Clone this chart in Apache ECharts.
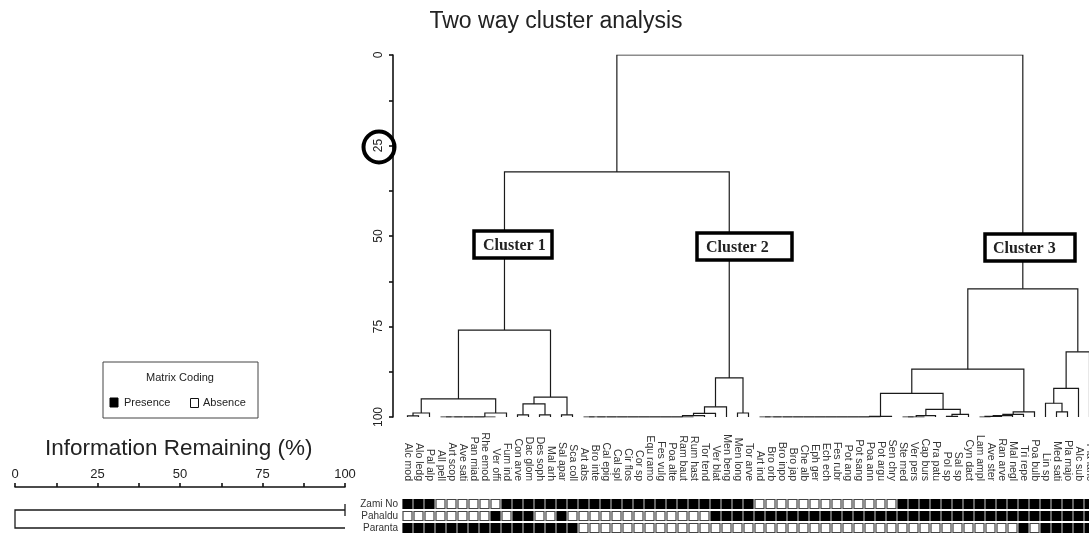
<!DOCTYPE html>
<html>
<head>
<meta charset="utf-8">
<script src="https://cdn.jsdelivr.net/npm/echarts@6/dist/echarts.min.js"></script>
<style>
  html, body { margin: 0; padding: 0; background: #fff; }
  #chart { width: 1089px; height: 535px; }
</style>
</head>
<body>
<div id="chart"></div>
<script>
// Species abbreviations, in dendrogram leaf order (columns of the two-way table)
const species = [
  'Alc mod', 'Alo ledg', 'Pal alp', 'All pell', 'Art scop', 'Ave sati', 'Pan miad', 'Rhe emod',
  'Ver offi', 'Fum ind', 'Con arve', 'Dac glom', 'Des soph', 'Mal arh', 'Sal apar', 'Sca coll',
  'Art abs', 'Bro inte', 'Cal epig', 'Cal spl', 'Cir flos', 'Cor sp', 'Equ ramo', 'Fes vulg',
  'Poa alte', 'Ram baut', 'Rum hast', 'Tor tend', 'Ver blat', 'Men beng', 'Men long', 'Tor arve',
  'Art ind', 'Bro orb', 'Bro inpo', 'Bro jap', 'Che alb', 'Eph ger', 'Ech ech', 'Fes rubr',
  'Pot ang', 'Pot sang', 'Poa ann', 'Pot argu', 'Sen chry', 'Ste med', 'Ver pers', 'Cap burs',
  'Pra patu', 'Pol sp', 'Sal sp', 'Cyn dact', 'Lam ampl', 'Ave ster', 'Ran arve', 'Mal negl',
  'Tri repe', 'Poa bulb', 'Lin sp', 'Med sati', 'Pla majo', 'Alc sub', 'Pla lanc'
];

// Sample sites (rows of the two-way table)
const sites = ['Zami No', 'Pahaldu', 'Paranta'];

// Presence (1) / absence (0) of every species at each site
const zamiNo = [
  1,1,1,0,0,0,0,0,0,1,1,1,1,1,1,1,
  1,1,1,1,1,1,1,1,1,1,1,1,1,1,1,1,
  0,0,0,0,0,0,0,0,0,0,0,0,0,1,1,1,1,1,1,1,1,1,1,1,1,1,1,1,1,1,1
];
const pahaldu = [
  0,0,0,0,0,0,0,0,1,0,1,1,0,0,1,0,
  0,0,0,0,0,0,0,0,0,0,0,0,1,1,1,1,
  1,1,1,1,1,1,1,1,1,1,1,1,1,1,1,1,1,1,1,1,1,1,1,1,1,1,1,1,1,1,1
];
const paranta = [
  1,1,1,1,1,1,1,1,1,1,1,1,1,1,1,1,
  0,0,0,0,0,0,0,0,0,0,0,0,0,0,0,0,
  0,0,0,0,0,0,0,0,0,0,0,0,0,0,0,0,0,0,0,0,0,0,0,0,1,0,1,1,1,1,1
];

// Species dendrogram: [node A, node B, information remaining (%) at the fusion].
// Nodes 0..62 are species; node 63 + k is the k-th fusion below.
const speciesMerges = [
  [0, 1, 99.7], [63, 2, 98.9],
  [3, 4, 100], [65, 5, 100], [66, 6, 100], [67, 7, 100], [68, 8, 100], [69, 9, 98.9],
  [64, 70, 95.0],
  [10, 11, 99.4], [12, 13, 99.4], [72, 73, 96.4], [14, 15, 99.4], [74, 75, 94.5],
  [71, 76, 76.0],
  [16, 17, 100], [78, 18, 100], [79, 19, 100], [80, 20, 100], [81, 21, 100], [82, 22, 100],
  [83, 23, 100], [84, 24, 100], [85, 25, 100], [86, 26, 100], [87, 27, 99.6], [88, 28, 99.0],
  [89, 29, 97.2], [30, 31, 98.9], [90, 91, 89.2],
  [77, 92, 32.3],
  [32, 33, 100], [94, 34, 100], [95, 35, 100], [96, 36, 100], [97, 37, 100], [98, 38, 100],
  [99, 39, 100], [100, 40, 100], [101, 41, 100], [102, 42, 100], [103, 43, 100], [104, 44, 99.8],
  [45, 46, 100], [106, 47, 100], [107, 48, 99.6],
  [49, 50, 99.8], [109, 51, 99.3], [108, 110, 97.9],
  [105, 111, 93.5],
  [52, 53, 100], [113, 54, 99.8], [114, 55, 99.6], [115, 56, 99.3], [116, 57, 98.6],
  [112, 117, 86.8],
  [59, 60, 98.6], [58, 119, 96.2], [120, 61, 92.1], [121, 62, 82.0],
  [118, 122, 64.6],
  [93, 123, 0]
];

// Site dendrogram, same layout (nodes 0..2 are sites)
const siteMerges = [[0, 1, 100], [3, 2, 0]];

// Labelled ticks of the information-remaining scales
const remainTicks = [0, 25, 50, 75, 100];
const clusterNames = ['Cluster 1', 'Cluster 2', 'Cluster 3'];

// Turn a fusion list into bracket polylines; leaves sit at `leafLevel`,
// each fusion is drawn midway between its two children.
function dendroSegments(merges, leafCount, leafLevel, horizontal) {
  const pos = [], lvl = [];
  for (let i = 0; i < leafCount; i++) { pos.push(i); lvl.push(leafLevel); }
  const segs = [];
  merges.forEach(([a, b, h]) => {
    const pts = [[pos[a], lvl[a]], [pos[a], h], [pos[b], h], [pos[b], lvl[b]]];
    segs.push({ coords: horizontal ? pts.map(p => [p[1], p[0]]) : pts });
    pos.push((pos[a] + pos[b]) / 2);
    lvl.push(h);
  });
  return segs;
}

const N = species.length;
const CELL = 11;
const cells = [];
[zamiNo, pahaldu, paranta].forEach((row, j) => row.forEach((v, i) => cells.push([i, j, v])));

const FONT = '"Liberation Sans", Arial, sans-serif';
const tickLabel = v => (remainTicks.indexOf(v) >= 0 ? String(v) : '');

function textEl(x, y, text, font, align, extra) {
  return Object.assign({
    type: 'text', x: x, y: y, z: 100,
    style: {
      text: text, font: font, fill: '#222',
      align: align, verticalAlign: 'middle',
      textAlign: align, textVerticalAlign: 'middle'
    }
  }, extra || {});
}

function clusterBox(x, y, w, h, tx, name) {
  return [
    { type: 'rect', z: 100, shape: { x: x, y: y, width: w, height: h },
      style: { fill: '#fff', stroke: '#000', lineWidth: 3.5 } },
    textEl(tx, y + h / 2 + 1, name, 'bold 16px "Liberation Serif", "Times New Roman", serif', 'left', { z: 101 })
  ];
}

const chart = echarts.init(document.getElementById('chart'), null, { renderer: 'canvas' });

chart.setOption({
  animation: false,
  backgroundColor: '#fff',
  textStyle: { fontFamily: FONT },
  grid: [
    { left: 402, top: 55, width: N * CELL, height: 362, outerBoundsMode: 'none' },
    { left: 402, top: 498, width: N * CELL, height: 36, outerBoundsMode: 'none' },
    { left: 15, top: 498, width: 330, height: 36, outerBoundsMode: 'none' }
  ],
  xAxis: [
    { gridIndex: 0, type: 'value', min: -0.5, max: N - 0.5, show: false },
    {
      gridIndex: 1, type: 'category', data: species, position: 'top',
      axisLine: { show: false }, axisTick: { show: false }, splitLine: { show: false },
      axisLabel: { rotate: 90, interval: 0, margin: 17, fontSize: 10.5, color: '#333', fontFamily: FONT }
    },
    {
      gridIndex: 2, type: 'value', min: 0, max: 100, interval: 12.5, position: 'top', offset: 11,
      axisLine: { onZero: false, lineStyle: { color: '#111', width: 1.6 } },
      axisTick: { length: 4, lineStyle: { color: '#111', width: 1.6 } },
      splitLine: { show: false },
      axisLabel: { formatter: tickLabel, fontSize: 13, color: '#222', margin: 6, fontFamily: FONT }
    }
  ],
  yAxis: [
    {
      gridIndex: 0, type: 'value', min: 0, max: 100, interval: 12.5, inverse: true, offset: 9,
      axisLine: { show: true, onZero: false, lineStyle: { color: '#111', width: 1.6 } },
      axisTick: { show: true, length: 4, lineStyle: { color: '#111', width: 1.6 } },
      splitLine: { show: false },
      axisLabel: { rotate: 90, formatter: tickLabel, fontSize: 12, margin: 8, color: '#222', fontFamily: FONT }
    },
    {
      gridIndex: 1, type: 'category', data: sites, inverse: true,
      axisLine: { show: false }, axisTick: { show: false }, splitLine: { show: false },
      axisLabel: { interval: 0, fontSize: 10, color: '#333', margin: 4, fontFamily: FONT }
    },
    { gridIndex: 2, type: 'value', min: -0.5, max: 2.5, inverse: true, show: false }
  ],
  series: [
    {
      name: 'Species dendrogram', type: 'lines', coordinateSystem: 'cartesian2d',
      xAxisIndex: 0, yAxisIndex: 0, polyline: true, silent: true,
      lineStyle: { color: '#1a1a1a', width: 1.2, opacity: 1 },
      data: dendroSegments(speciesMerges, N, 100, false)
    },
    {
      name: 'Matrix', type: 'custom', coordinateSystem: 'cartesian2d',
      xAxisIndex: 1, yAxisIndex: 1, silent: true,
      encode: { x: 0, y: 1 },
      data: cells,
      renderItem: function (params, api) {
        const c = api.coord([api.value(0), api.value(1)]);
        const s = api.size([1, 1]);
        const on = api.value(2) === 1;
        return {
          type: 'rect',
          shape: { x: c[0] - s[0] / 2 + 1, y: c[1] - s[1] / 2 + 1.5, width: s[0] - 2, height: s[1] - 3 },
          style: { fill: on ? '#000' : '#fff', stroke: on ? '#000' : '#444', lineWidth: 1.2 }
        };
      }
    },
    {
      name: 'Site dendrogram', type: 'lines', coordinateSystem: 'cartesian2d',
      xAxisIndex: 2, yAxisIndex: 2, polyline: true, silent: true,
      lineStyle: { color: '#1a1a1a', width: 1.3, opacity: 1 },
      data: dendroSegments(siteMerges, sites.length, 100, true)
    }
  ],
  graphic: [
    textEl(556, 22, 'Two way cluster analysis', '23px ' + FONT, 'center'),
    textEl(45, 449, 'Information Remaining (%)', '22.5px ' + FONT, 'left'),
    // matrix coding key
    { type: 'rect', z: 100, shape: { x: 103, y: 362, width: 155, height: 56 },
      style: { fill: '#fff', stroke: '#444', lineWidth: 1 } },
    textEl(180, 378, 'Matrix Coding', '11px ' + FONT, 'center'),
    { type: 'rect', z: 100, shape: { x: 110, y: 398, width: 8, height: 9 },
      style: { fill: '#000', stroke: '#000', lineWidth: 1 } },
    textEl(124, 403, 'Presence', '11px ' + FONT, 'left'),
    { type: 'rect', z: 100, shape: { x: 190.5, y: 398.5, width: 8, height: 9 },
      style: { fill: '#fff', stroke: '#111', lineWidth: 1 } },
    textEl(203, 403, 'Absence', '11px ' + FONT, 'left'),
    // highlight ring around the 25 % cut level
    { type: 'circle', z: 100, shape: { cx: 379, cy: 147, r: 15.5 },
      style: { fill: 'none', stroke: '#000', lineWidth: 4 } }
  ]
    .concat(clusterBox(474, 231, 78, 27, 483, clusterNames[0]))
    .concat(clusterBox(697, 233, 95, 27, 706, clusterNames[1]))
    .concat(clusterBox(985, 234, 90, 27, 993, clusterNames[2]))
});
</script>
</body>
</html>
